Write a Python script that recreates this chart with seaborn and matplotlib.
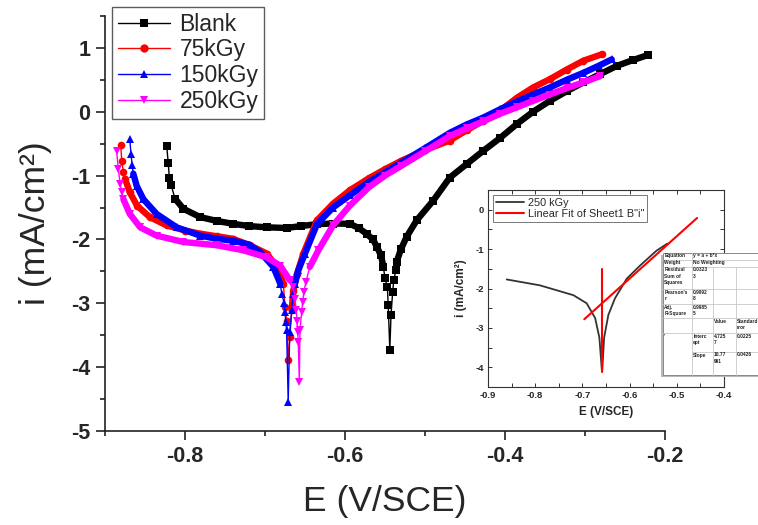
import numpy as np
import pandas as pd
import matplotlib
matplotlib.use("Agg")
import matplotlib.pyplot as plt
from matplotlib.lines import Line2D
from matplotlib.patches import Rectangle
import seaborn as sns

# ---------------- data ----------------
blank_E = [-0.8229, -0.8209, -0.8196, -0.8175, -0.8125, -0.802, -0.781, -0.76, -0.74, -0.72,
           -0.698, -0.673, -0.655, -0.635, -0.615, -0.594, -0.583, -0.573, -0.565, -0.56,
           -0.555, -0.552, -0.550, -0.547, -0.546, -0.544, -0.5425, -0.5404, -0.539, -0.5363,
           -0.5354, -0.530, -0.523, -0.5104, -0.4896, -0.469, -0.448, -0.427, -0.406, -0.385,
           -0.365, -0.344, -0.323, -0.302, -0.281, -0.26, -0.24, -0.221]
blank_i = [-0.53, -0.81, -1.03, -1.14, -1.36, -1.52, -1.65, -1.71, -1.755, -1.79,
           -1.81, -1.82, -1.79, -1.76, -1.75, -1.755, -1.82, -1.91, -2.00, -2.12,
           -2.25, -2.43, -2.61, -2.75, -3.02, -3.73, -3.19, -2.82, -2.63, -2.48,
           -2.35, -2.15, -1.96, -1.70, -1.39, -1.03, -0.82, -0.61, -0.41, -0.19,
           0.0, 0.17, 0.32, 0.46, 0.59, 0.72, 0.81, 0.89]

k75_E = [-0.8804, -0.879, -0.877, -0.875, -0.869, -0.86, -0.844, -0.823, -0.80, -0.781,
         -0.76, -0.74, -0.719, -0.698, -0.685, -0.677, -0.675, -0.673, -0.671, -0.669,
         -0.6666, -0.6646, -0.660, -0.652, -0.635, -0.615, -0.594, -0.57, -0.55, -0.53,
         -0.50, -0.469, -0.448, -0.427, -0.406, -0.385, -0.365, -0.344, -0.323, -0.302, -0.279]
k75_i = [-0.52, -0.77, -0.95, -1.05, -1.26, -1.47, -1.65, -1.78, -1.86, -1.91,
         -1.95, -1.99, -2.09, -2.22, -2.43, -2.69, -3.06, -3.27, -3.89, -3.53,
         -3.11, -2.80, -2.54, -2.22, -1.70, -1.44, -1.23, -1.04, -0.90, -0.77,
         -0.60, -0.45, -0.29, -0.14, 0.02, 0.22, 0.38, 0.51, 0.66, 0.80, 0.90]

k150_E = [-0.869, -0.8675, -0.866, -0.8646, -0.8604, -0.852, -0.8355, -0.8104, -0.781, -0.76,
          -0.74, -0.72, -0.706, -0.6896, -0.681, -0.679, -0.676, -0.675, -0.674, -0.673,
          -0.671, -0.669, -0.6666, -0.6646, -0.6625, -0.6583, -0.65, -0.635, -0.615, -0.594,
          -0.57, -0.55, -0.53, -0.50, -0.469, -0.448, -0.427, -0.406, -0.385, -0.365,
          -0.344, -0.323, -0.302, -0.283, -0.2666]
k150_i = [-0.43, -0.66, -0.84, -0.97, -1.16, -1.37, -1.60, -1.81, -1.94, -1.99,
          -2.02, -2.08, -2.20, -2.43, -2.69, -2.85, -3.0, -3.14, -3.29, -3.42,
          -4.54, -3.45, -3.11, -2.85, -2.69, -2.48, -2.22, -1.76, -1.50, -1.31,
          -1.10, -0.95, -0.80, -0.57, -0.33, -0.20, -0.09, 0.04, 0.16, 0.27,
          0.38, 0.50, 0.61, 0.72, 0.82]

k250_E = [-0.8854, -0.8833, -0.881, -0.879, -0.877, -0.869, -0.856, -0.8355, -0.802, -0.7604,
          -0.727, -0.698, -0.681, -0.669, -0.6646, -0.6625, -0.661, -0.660, -0.6592, -0.6584,
          -0.6571, -0.6563, -0.6542, -0.653, -0.6513, -0.649, -0.644, -0.6333, -0.615, -0.594,
          -0.57, -0.55, -0.53, -0.50, -0.469, -0.448, -0.427, -0.406, -0.385, -0.365,
          -0.344, -0.323, -0.302, -0.281]
k250_i = [-0.62, -0.90, -1.13, -1.26, -1.37, -1.60, -1.81, -1.94, -2.04, -2.09,
          -2.17, -2.28, -2.41, -2.64, -2.75, -2.93, -3.11, -3.27, -3.45, -3.60,
          -4.23, -3.42, -3.14, -2.98, -2.82, -2.67, -2.43, -2.17, -1.78, -1.47,
          -1.18, -1.00, -0.85, -0.62, -0.38, -0.26, -0.15, -0.03, 0.07, 0.17,
          0.27, 0.37, 0.46, 0.56]

series_names = ["Blank", "75kGy", "150kGy", "250kGy"]
series_colors = ["#000000", "#ff0000", "#0000ff", "#ff00ff"]
series_markers = ["s", "o", "^", "v"]
# index ranges where the instrument's markers are so dense they merge into a band
dense_ranges = [[(4, 22), (30, None)], [(3, 16), (20, None)],
                [(3, 15), (24, None)], [(4, 14), (26, None)]]

# inset data (250 kGy with Tafel fit)
ins_E = [-0.8604, -0.79, -0.719, -0.691, -0.673, -0.664, -0.659, -0.658,
         -0.654, -0.645, -0.631, -0.606, -0.578, -0.543, -0.52]
ins_i = [-1.77, -1.92, -2.17, -2.375, -2.75, -3.25, -4.04, -4.08,
         -3.25, -2.67, -2.25, -1.75, -1.42, -1.04, -0.86]
fit_E = [-0.696, -0.457]
fit_i = [-2.78, -0.21]
vline_E = [-0.6577, -0.6577]
vline_i = [-1.50, -4.13]

x_ticks = [-0.8, -0.6, -0.4, -0.2]
y_ticks = [-5, -4, -3, -2, -1, 0, 1]
ins_x_ticks = [-0.9, -0.8, -0.7, -0.6, -0.5, -0.4]
ins_y_ticks = [-4, -3, -2, -1, 0]

table_rows = [
    ("Equation", "y = a + b*x", "", ""),
    ("Weight", "No Weighting", "", ""),
    ("Residual\nSum of\nSquares", "0.0323\n3", "", ""),
    ("Pearson's\nr", "0.9992\n8", "", ""),
    ("Adj.\nR-Square", "0.9985\n5", "", ""),
    ("", "", "Value", "Standard\nrror"),
    ("'", "Interc\nept", "4.725\n7", "0.0225"),
    ("", "Slope", "10.77\n991", "0.0426"),
]

# ---------------- style ----------------
sns.set_style("ticks")
plt.rcParams["font.family"] = ["Liberation Sans", "DejaVu Sans"]

W, H = 758, 525
fig = plt.figure(figsize=(W / 100, H / 100), dpi=100)

def fx(px):
    return px / W

def fy(py):
    return 1 - py / H

L, R, T, B = 105, 665, 16, 431
ax = fig.add_axes([fx(L), fy(B), fx(R) - fx(L), fy(T) - fy(B)])

all_E = [blank_E, k75_E, k150_E, k250_E]
all_i = [blank_i, k75_i, k150_i, k250_i]
for E, i, c, m, rngs in zip(all_E, all_i, series_colors, series_markers, dense_ranges):
    for a, b in rngs:
        sns.lineplot(x=E[a:b], y=i[a:b], ax=ax, sort=False, estimator=None, color=c, lw=4.6,
                     legend=False, solid_capstyle="round", solid_joinstyle="round")
    sns.lineplot(x=E, y=i, ax=ax, sort=False, estimator=None, color=c, lw=1.0,
                 marker=m, markersize=5.5, markeredgewidth=0, legend=False)

ax.set_xlim(-0.9, -0.2)
ax.set_ylim(-5, 1.5)
ax.set_xticks(x_ticks)
ax.set_xticklabels([f"{v:.1f}" for v in x_ticks])
ax.set_yticks(y_ticks)
ax.set_yticklabels([str(v) for v in y_ticks])
ax.xaxis.set_minor_locator(matplotlib.ticker.MultipleLocator(0.1))
ax.yaxis.set_minor_locator(matplotlib.ticker.MultipleLocator(0.5))
for s in ["top", "right"]:
    ax.spines[s].set_visible(False)
for s in ["left", "bottom"]:
    ax.spines[s].set_linewidth(1.2)
    ax.spines[s].set_color("#222222")
ax.tick_params(which="major", direction="out", length=6.5, width=1.2, color="#222222",
               labelsize=15.5, pad=4)
ax.tick_params(which="minor", direction="out", length=3.8, width=1.2, color="#222222")
for lab in ax.get_xticklabels() + ax.get_yticklabels():
    lab.set_fontweight("bold")
ax.set_xlabel("E (V/SCE)", fontsize=25.5, labelpad=13)
ax.set_ylabel("i (mA/cm²)", fontsize=25.5, labelpad=14)

handles = [Line2D([], [], color=c, lw=1.0, marker=m, markersize=6, markeredgewidth=0)
           for c, m in zip(series_colors, series_markers)]
leg = fig.legend(handles, series_names, loc="upper left", bbox_to_anchor=(fx(112), fy(7)),
                 fontsize=16.5, frameon=True, fancybox=False, handlelength=2.3,
                 handletextpad=0.4, labelspacing=0.12, borderpad=0.25, borderaxespad=0)
leg.get_frame().set_edgecolor("#333333")
leg.get_frame().set_linewidth(1.0)

# ---------------- inset ----------------
iL, iR, iT, iB = 488, 724, 190, 387
ax2 = fig.add_axes([fx(iL), fy(iB), fx(iR) - fx(iL), fy(iT) - fy(iB)])
ax2.set_facecolor("white")
sns.lineplot(x=ins_E, y=ins_i, ax=ax2, sort=False, estimator=None, color="#333333", lw=1.3,
             legend=False)
sns.lineplot(x=fit_E, y=fit_i, ax=ax2, sort=False, estimator=None, color="#ff0000", lw=1.5,
             legend=False)
sns.lineplot(x=vline_E, y=vline_i, ax=ax2, sort=False, estimator=None, color="#ff0000", lw=1.5,
             legend=False)
ax2.set_xlim(-0.9, -0.4)
ax2.set_ylim(-4.5, 0.5)
ax2.set_xticks(ins_x_ticks)
ax2.set_xticklabels([f"{v:.1f}" for v in ins_x_ticks])
ax2.set_yticks(ins_y_ticks)
ax2.set_yticklabels([str(v) for v in ins_y_ticks])
ax2.xaxis.set_minor_locator(matplotlib.ticker.MultipleLocator(0.05))
ax2.yaxis.set_minor_locator(matplotlib.ticker.MultipleLocator(0.5))
for s in ax2.spines.values():
    s.set_linewidth(0.8)
    s.set_color("#333333")
ax2.tick_params(which="both", direction="in", top=True, right=True, color="#333333", width=0.7)
ax2.tick_params(which="major", length=3, labelsize=6.8, pad=3)
ax2.tick_params(which="minor", length=3)
for lab in ax2.get_xticklabels() + ax2.get_yticklabels():
    lab.set_fontweight("bold")
ax2.set_xlabel("E (V/SCE)", fontsize=8.5, fontweight="bold", labelpad=4)
ax2.set_ylabel("i (mA/cm²)", fontsize=8.5, fontweight="bold", labelpad=6)

ih = [Line2D([], [], color="#333333", lw=1.3), Line2D([], [], color="#ff0000", lw=1.5)]
leg2 = fig.legend(ih, ["250 kGy", 'Linear Fit of Sheet1 B"i"'], loc="upper left",
                  bbox_to_anchor=(fx(493), fy(195)), fontsize=7.8, frameon=True, fancybox=False,
                  handlelength=2.6, handletextpad=0.4, labelspacing=0.1, borderpad=0.25,
                  borderaxespad=0)
leg2.get_frame().set_edgecolor("#555555")
leg2.get_frame().set_linewidth(0.7)

# ---------------- fit table (pixel coordinates overlay) ----------------
ov = fig.add_axes([0, 0, 1, 1], zorder=10)
ov.set_xlim(0, W)
ov.set_ylim(H, 0)
ov.axis("off")
tx0, tx1 = 663, 800
cols = [663, 692, 713, 735.5, 790]
rows = [252.7, 259.5, 266.5, 289.3, 304, 318.3, 332.7, 351.7, 375]
ov.add_patch(Rectangle((tx0 - 2, rows[0] + 2), tx1 - tx0, rows[-1] - rows[0],
                       facecolor="#b8b8b8", edgecolor="none"))
ov.add_patch(Rectangle((tx0, rows[0]), tx1 - tx0, rows[-1] - rows[0],
                       facecolor="white", edgecolor="#888888", lw=0.7))
gc = "#c8c8c8"
for k, y in enumerate(rows[1:-1], start=1):
    x_start = cols[1] if k == 7 else tx0
    ov.plot([x_start, tx1], [y, y], color=gc, lw=0.6)
for k in range(len(rows) - 1):
    y0, y1 = rows[k], rows[k + 1]
    ov.plot([cols[1], cols[1]], [y0, y1], color=gc, lw=0.6)
    if k >= 2:
        ov.plot([cols[2], cols[2]], [y0, y1], color=gc, lw=0.6)
        ov.plot([cols[3], cols[3]], [y0, y1], color=gc, lw=0.6)
for k, row in enumerate(table_rows):
    for c, txt in enumerate(row):
        if txt:
            ov.text(cols[c] + 1.2, rows[k] + 0.8, txt, fontsize=3.5, fontweight="bold",
                    va="top", ha="left", color="#222222", linespacing=1.3)

fig.savefig("out.png", dpi=100)
